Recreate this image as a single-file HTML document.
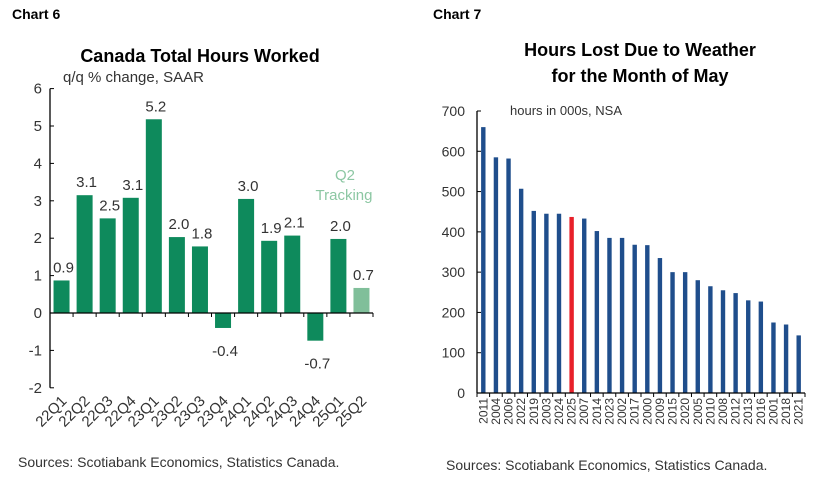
<!DOCTYPE html>
<html><head><meta charset="utf-8"><style>
body{margin:0;background:#fff;font-family:"Liberation Sans",sans-serif}
svg text{font-family:"Liberation Sans",sans-serif}
</style></head><body>
<svg id="s" width="828" height="482">
<text x="12" y="19" font-size="14" font-weight="bold">Chart 6</text>
<text x="433" y="19" font-size="14" font-weight="bold">Chart 7</text>
<text x="200" y="62" font-size="18" font-weight="bold" text-anchor="middle">Canada Total Hours Worked</text>
<text x="63" y="82" font-size="15" fill="#333">q/q % change, SAAR</text>
<text x="640" y="56" font-size="18" font-weight="bold" text-anchor="middle">Hours Lost Due to Weather</text>
<text x="640" y="82" font-size="18" font-weight="bold" text-anchor="middle">for the Month of May</text>
<text x="510" y="115" font-size="13" fill="#333">hours in 000s, NSA</text>
<text x="345" y="180" font-size="15" fill="#8cc7a3" text-anchor="middle">Q2</text>
<text x="344" y="200" font-size="15" fill="#8cc7a3" text-anchor="middle">Tracking</text>
<text x="18" y="467" font-size="14" fill="#333">Sources: Scotiabank Economics, Statistics Canada.</text>
<text x="446" y="470" font-size="14" fill="#333">Sources: Scotiabank Economics, Statistics Canada.</text>
<g id="c6"></g><g id="c7"></g>
</svg>
<script>
const cats6=["22Q1","22Q2","22Q3","22Q4","23Q1","23Q2","23Q3","23Q4","24Q1","24Q2","24Q3","24Q4","25Q1","25Q2"];
const vals6=[0.87,3.15,2.53,3.08,5.18,2.03,1.78,-0.4,3.05,1.93,2.07,-0.74,1.98,0.67];
const labels6=["0.9","3.1","2.5","3.1","5.2","2.0","1.8","-0.4","3.0","1.9","2.1","-0.7","2.0","0.7"];
const ticks6=[-2,-1,0,1,2,3,4,5,6];
const cats7=["2011","2004","2006","2022","2019","2003","2024","2025","2007","2014","2023","2002","2017","2000","2009","2015","2020","2005","2010","2008","2012","2013","2016","2001","2018","2021"];
const vals7=[660,585,582,507,452,445,445,437,433,402,385,385,368,367,335,300,300,280,265,255,248,230,227,175,170,143];
const ticks7=[0,100,200,300,400,500,600,700];
const NS="http://www.w3.org/2000/svg";
function mk(p,t,a,txt){const e=document.createElementNS(NS,t);for(const k in a)e.setAttribute(k,a[k]);if(txt!=null)e.textContent=txt;p.appendChild(e);return e;}
// chart 6
const g6=document.getElementById('c6');
const x0=50,x1=373,yA=v=>313-v*37.4;const sw=(x1-x0)/cats6.length;
mk(g6,'line',{x1:x0,y1:yA(6),x2:x0,y2:yA(-2),stroke:'#000','stroke-width':1.3});
ticks6.forEach(t=>{const y=yA(t);
 const l=mk(g6,'line',{x1:x0,y1:y,x2:x0+4,y2:y,stroke:'#000'});
 const tx=mk(g6,'text',{x:x0-8,y:y+5,'font-size':15,fill:'#333','text-anchor':'end'},String(t));});
cats6.forEach((c,i)=>{const v=vals6[i];const cx=x0+(i+0.5)*sw;const y=yA(Math.max(v,0)),h=Math.abs(yA(v)-yA(0));
 const r=mk(g6,'rect',{x:cx-8,y:y,width:16,height:h,fill:i==13?'#80bf9a':'#0e8a5c'});
 const ly=v>=0?yA(v)-8:yA(v)+28;
 const t=mk(g6,'text',{x:cx+2,y:ly,'font-size':15,fill:'#333','text-anchor':'middle'},labels6[i]);
 const xl=mk(g6,'text',{x:0,y:0,'font-size':15,fill:'#333','text-anchor':'end',transform:`translate(${cx+6},${yA(-2)+14}) rotate(-45)`},c);
 const tk=mk(g6,'line',{x1:x0+(i+1)*sw,y1:yA(0),x2:x0+(i+1)*sw,y2:yA(0)+4,stroke:'#000'});});
mk(g6,'line',{x1:x0,y1:yA(0),x2:x1,y2:yA(0),stroke:'#000','stroke-width':1.3});
// chart 7
const g7=document.getElementById('c7');
const X0=477,X1=805,yB=v=>393-v*(282/700);const sw7=(X1-X0)/cats7.length;
mk(g7,'line',{x1:X0,y1:yB(700),x2:X0,y2:yB(0),stroke:'#000','stroke-width':1.3});
ticks7.forEach(t=>{const y=yB(t);
 const l=mk(g7,'line',{x1:X0,y1:y,x2:X0+4,y2:y,stroke:'#000'});
 const tx=mk(g7,'text',{x:X0-12,y:y+5,'font-size':14,fill:'#333','text-anchor':'end'},String(t));});
cats7.forEach((c,i)=>{const v=vals7[i];const cx=X0+(i+0.5)*sw7;
 const r=mk(g7,'rect',{x:cx-2.2,y:yB(v),width:4.4,height:yB(0)-yB(v),fill:c=="2025"?'#e8202a':'#1f4e8c'});
 const xl=mk(g7,'text',{x:0,y:0,'font-size':12,fill:'#333','text-anchor':'end',transform:`translate(${cx+4},${yB(0)+5}) rotate(-90)`},c);});
for(let i=0;i<=cats7.length;i++){const x=X0+i*sw7;const tk=mk(g7,'line',{x1:x,y1:yB(0),x2:x,y2:yB(0)+4,stroke:'#000'});}
mk(g7,'line',{x1:X0,y1:yB(0),x2:X1,y2:yB(0),stroke:'#000','stroke-width':1.3});
</script>
</body></html>
